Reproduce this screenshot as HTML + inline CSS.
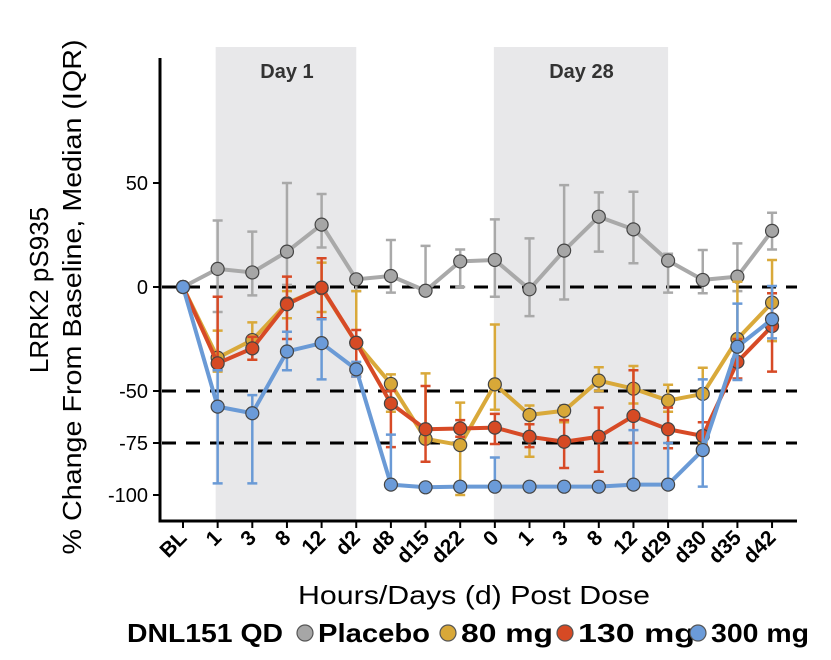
<!DOCTYPE html>
<html><head><meta charset="utf-8"><style>
body{margin:0;background:#fff;}
svg{display:block;font-family:"Liberation Sans",Arial,sans-serif;}
</style></head><body>
<svg id="chart" width="831" height="660" viewBox="0 0 831 660" xmlns="http://www.w3.org/2000/svg"></svg>
<script>
const categories=["BL","1","3","8","12","d2","d8","d15","d22","0","1","3","8","12","d29","d30","d35","d42"];
const yTicks=[50,0,-50,-75,-100];
const refLines=[0,-50,-75];
const placebo=[0,8.7,7,17,30,3.7,5.3,-1.8,12.3,13,-1.1,17.5,33.8,27.7,12.7,3.4,5,27];
const placeboLo=[0,-12,-4,1,19,-2,-2.7,-1,0,-4.7,-14,-6,17,11.4,-2.7,-3,-2,18];
const placeboHi=[0,32,26.6,50,44.7,5,22.6,19.8,18,32.5,23.4,49,45.5,45.8,16,17.8,21,35.7];
const mg80=[0,-34,-25.5,-7.8,-0.6,-26.8,-46.6,-73,-76,-46.8,-61.5,-59.5,-45,-48.9,-54.6,-51.4,-25,-7.5];
const mg80Lo=[0,-40.7,-35,-15,-12,-43,-60,-75,-100,-59,-81.6,-65,-50,-56,-60,-75,-35,-26];
const mg80Hi=[0,-21,-17,-2,11.7,-2,-42,-41.5,-55.6,-18,-57,-57,-38.6,-38,-47,-38.8,2.5,13];
const mg130=[0,-36.7,-29.5,-8.3,-0.3,-26.8,-56,-68.4,-68,-67.6,-72,-74.4,-72,-62,-68.4,-71.6,-36,-18.8];
const mg130Lo=[0,-40,-35,-25,-15,-43,-77,-84,-72,-75.5,-77,-87,-88.8,-75,-77.5,-76,-44,-40.7];
const mg130Hi=[0,-4.7,-24,5,13.8,-20.7,-50,-47.6,-64,-61,-66,-64,-58,-40,-58,-65,-25,-3];
const mg300=[0,-57.5,-60.7,-31,-27,-39.6,-95,-96.3,-96,-96,-96,-96,-96,-95,-95,-78.4,-28.7,-15.5];
const mg300Lo=[0,-94.4,-94.4,-40,-44.4,-43,-96,-97,-97,-97,-97,-97,-97,-96,-96,-96,-44.7,-24.7];
const mg300Hi=[0,-40,-52,-21.5,-15.5,-36,-71,-96,-96,-82,-96,-96,-96,-68.8,-75,-44.4,-8,0.5];

const NS="http://www.w3.org/2000/svg";
const svg=document.getElementById('chart');
const X0=183, XS=34.65;
function xs(i){return X0+i*XS;}
function ys(v){return 287-v*2.08;}
function mk(tag,attrs,parent){const e=document.createElementNS(NS,tag);for(const k in attrs)e.setAttribute(k,attrs[k]);(parent||svg).appendChild(e);return e;}

let r=mk('rect',{x:xs(1)-2,y:47,width:xs(5)-xs(1)+2,height:521-47,fill:'#e8e8ea'});

r=mk('rect',{x:xs(9)-1,y:47,width:xs(14)-xs(9)+1,height:521-47,fill:'#e8e8ea'});

let t=mk('text',{x:(xs(1)+xs(5))/2,y:78,'text-anchor':'middle','font-size':20,'font-weight':'bold',fill:'#333'});t.textContent='Day 1';

t=mk('text',{x:(xs(9)+xs(14))/2,y:78,'text-anchor':'middle','font-size':20,'font-weight':'bold',fill:'#333'});t.textContent='Day 28';


refLines.forEach(v=>{const l=mk('line',{x1:162,x2:797,y1:ys(v),y2:ys(v),stroke:'#000','stroke-width':3,'stroke-dasharray':'14 10'});
});

let a=mk('line',{x1:160,x2:160,y1:58,y2:522,stroke:'#000','stroke-width':3});

a=mk('line',{x1:158.5,x2:797,y1:521,y2:521,stroke:'#000','stroke-width':3});

yTicks.forEach(v=>{const l=mk('line',{x1:153,x2:160,y1:ys(v),y2:ys(v),stroke:'#000','stroke-width':2});

const tx=mk('text',{x:148,y:ys(v)+7,'text-anchor':'end','font-size':20,fill:'#000'});tx.textContent=v;
});
categories.forEach((c,i)=>{const l=mk('line',{x1:xs(i),x2:xs(i),y1:521,y2:528,stroke:'#000','stroke-width':2});

const tx=mk('text',{x:xs(i)+5,y:539,'text-anchor':'end','font-size':21,'font-weight':'bold',fill:'#000',transform:`rotate(-45 ${xs(i)+5} 539)`});tx.textContent=c;
});

t=mk('text',{x:474,y:604,'text-anchor':'middle','font-size':26,fill:'#000',textLength:352,lengthAdjust:'spacingAndGlyphs'});t.textContent='Hours/Days (d) Post Dose';

t=mk('text',{x:0,y:0,'text-anchor':'middle','font-size':26,fill:'#000',transform:'translate(48 290) rotate(-90)'});t.textContent='LRRK2 pS935';

t=mk('text',{x:0,y:0,'text-anchor':'middle','font-size':26,fill:'#000',transform:'translate(81 297) rotate(-90)',textLength:515,lengthAdjust:'spacingAndGlyphs'});t.textContent='% Change From Baseline, Median (IQR)';


const series=[
 {name:'placebo',v:placebo,lo:placeboLo,hi:placeboHi,c:'#a9a9a9',f:'#a6a6a6'},
 {name:'80mg',v:mg80,lo:mg80Lo,hi:mg80Hi,c:'#d9a93a',f:'#d8a838'},
 {name:'130mg',v:mg130,lo:mg130Lo,hi:mg130Hi,c:'#d74a26',f:'#d64a24'},
 {name:'300mg',v:mg300,lo:mg300Lo,hi:mg300Hi,c:'#6a9ad6',f:'#6b9bd9'}];
series.forEach(s=>{
 const g=mk('g',{});
 s.v.forEach((v,i)=>{if(i===0)return;const x=xs(i);
  const e=mk('path',{d:`M${x} ${ys(s.hi[i])}V${ys(s.lo[i])}M${x-5} ${ys(s.hi[i])}H${x+5}M${x-5} ${ys(s.lo[i])}H${x+5}`,stroke:s.c,'stroke-width':2.5,fill:'none'},g);
  });
 const p=mk('polyline',{points:s.v.map((v,i)=>xs(i)+','+ys(v)).join(' '),stroke:s.c,'stroke-width':4,fill:'none','stroke-linejoin':'round'},g);
 
 s.v.forEach((v,i)=>{const c=mk('circle',{cx:xs(i),cy:ys(v),r:6.5,fill:s.f,stroke:'#444','stroke-width':1.2},g);
  });
});

const lg=mk('g',{});
t=mk('text',{x:127,y:642,'font-size':26,'font-weight':'bold',fill:'#000',textLength:156,lengthAdjust:'spacingAndGlyphs'},lg);t.textContent='DNL151 QD';

const legItems=[[305,'Placebo','#a6a6a6',112],[448,'80 mg','#d8a838',92],[565,'130 mg','#d64a24',117],[698,'300 mg','#6b9bd9',98]];
legItems.forEach(([x,l,c,w])=>{
 const ci=mk('circle',{cx:x,cy:633,r:8,fill:c,stroke:'#555','stroke-width':1.2},lg);
 
 const tx=mk('text',{x:x+13,y:642,'font-size':26,'font-weight':'bold',fill:'#000',textLength:w,lengthAdjust:'spacingAndGlyphs'},lg);tx.textContent=l;
 });
</script>
</body></html>
